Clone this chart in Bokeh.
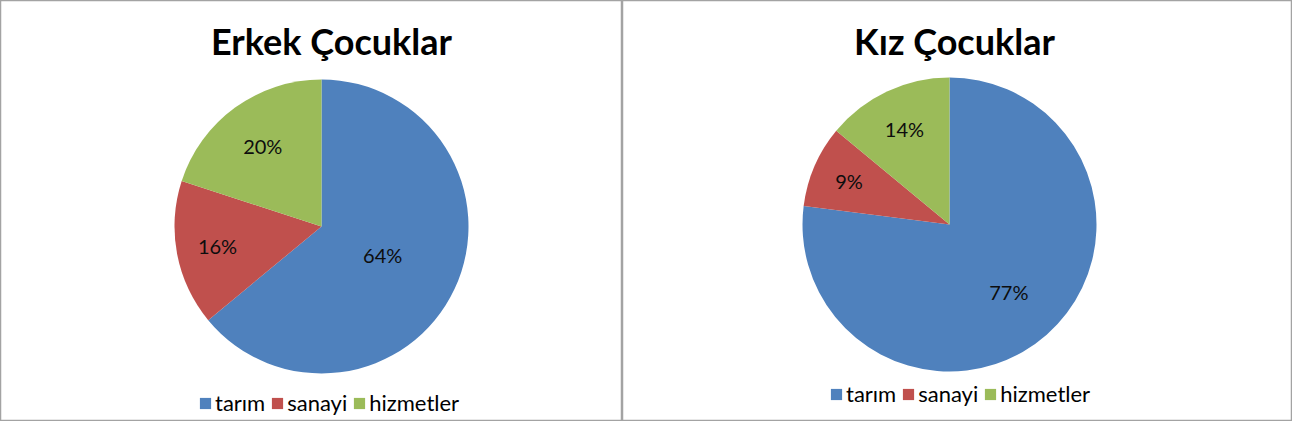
import math
from bokeh.plotting import figure
from bokeh.models import ColumnDataSource, Range1d, Legend, LegendItem
from bokeh.layouts import row
from bokeh.embed import file_html
from bokeh.resources import INLINE
from bokeh.core.properties import value

# ---- data ----
categories = ["tarım", "sanayi", "hizmetler"]
erkek_values = [64, 16, 20]
kiz_values = [77, 9, 14]
chart_titles = ["Erkek Çocuklar", "Kız Çocuklar"]
colors = ["#4F81BD", "#C0504D", "#9BBB59"]

# ---- layout / style (not data) ----
FONT = "Lato"
H = 421


def make_pie(title, values, width, cx, cy_top, radius, title_x, title_y_top,
             label_frac, legend_xy):
    p = figure(width=width, height=H, x_range=Range1d(0, width), y_range=Range1d(0, H),
               output_backend="svg", toolbar_location=None, tools="",
               x_axis_location=None, y_axis_location=None, min_border=0,
               outline_line_color="#a3a3a3", outline_line_width=1.5,
               background_fill_color="white", border_fill_color="white")
    p.grid.grid_line_color = None
    cy = H - cy_top

    total = float(sum(values))
    starts, ends, lx, ly, labels = [], [], [], [], []
    cum = 0.0
    for v, f in zip(values, label_frac):
        a0 = math.pi / 2 - 2 * math.pi * cum / total
        a1 = math.pi / 2 - 2 * math.pi * (cum + v) / total
        mid = (a0 + a1) / 2
        starts.append(a0)
        ends.append(a1)
        lx.append(cx + f * radius * math.cos(mid))
        ly.append(cy + f * radius * math.sin(mid))
        labels.append(f"{v}%")
        cum += v

    src = ColumnDataSource(dict(start=starts, end=ends, color=colors,
                                cat=categories, lx=lx, ly=ly, lab=labels))
    r = p.wedge(x=cx, y=cy, radius=radius, start_angle="start", end_angle="end",
                direction="clock", fill_color="color", line_color=None, source=src)

    p.text(x="lx", y="ly", text="lab", source=src, text_align="center",
           text_baseline="middle", text_font=value(FONT), text_font_size="20px",
           text_color="#0d0d0d")

    p.text(x=[title_x], y=[H - title_y_top], text=[title], text_align="center",
           text_baseline="middle", text_font=value(FONT), text_font_size="36px",
           text_font_style="bold", text_color="#000000")

    items = [LegendItem(label=c, renderers=[r], index=i) for i, c in enumerate(categories)]
    legend = Legend(items=items, location=legend_xy, orientation="horizontal",
                    glyph_width=14, glyph_height=14, label_standoff=3, spacing=5,
                    padding=0, margin=0, border_line_color=None,
                    background_fill_alpha=0, label_text_font=FONT,
                    label_text_font_size="22px", label_text_color="#000000")
    p.add_layout(legend)
    return p


p1 = make_pie(chart_titles[0], erkek_values, 622, 321, 226, 147, 331, 40,
              [0.46, 0.72, 0.68], (198, 5))
p2 = make_pie(chart_titles[1], kiz_values, 670, 327, 224, 147, 332, 40,
              [0.61, 0.745, 0.72], (207, 14))

layout = row(p1, p2, spacing=0)
open("out.html", "w").write(file_html(layout, INLINE))
